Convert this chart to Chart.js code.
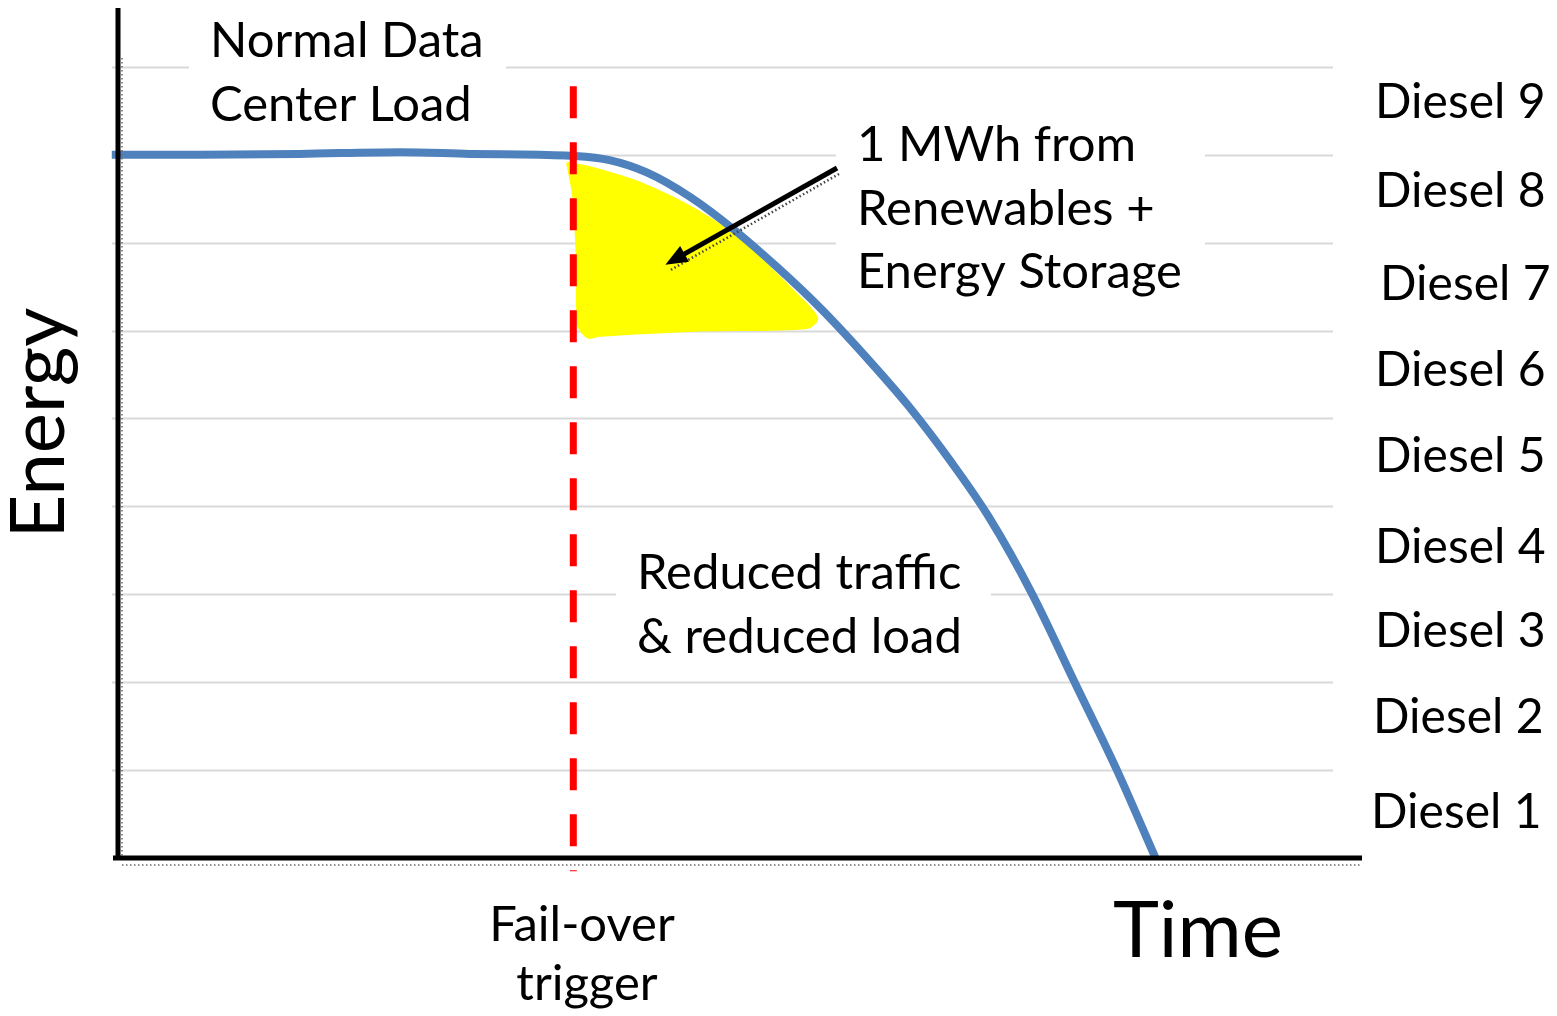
<!DOCTYPE html>
<html>
<head>
<meta charset="utf-8">
<script src="https://cdn.jsdelivr.net/npm/chart.js@4.4.0/dist/chart.umd.min.js"></script>
<style>
  html, body { margin: 0; padding: 0; background: #ffffff; }
  #wrap { position: relative; width: 1557px; height: 1016px; }
  canvas { display: block; }
</style>
</head>
<body>
<div id="wrap"><canvas id="chart" width="1557" height="1016"></canvas></div>
<script>
// ---- data -------------------------------------------------------------
// Data-center load over time (time in arbitrary units 0..100, energy in diesel-generator units)
const loadTime   = [-0.5, 6.6, 14.6, 22.7, 28.3, 33.9, 36.3, 39.5, 42.5, 46.0, 49.5, 53.0, 56.5, 60.0, 63.5, 67.0, 70.0, 73.5, 76.9, 80.3, 83.4];
const loadEnergy = [8.00, 8.00, 8.01, 8.03, 8.01, 8.00, 7.99, 7.94, 7.80, 7.52, 7.15, 6.72, 6.25, 5.72, 5.15, 4.50, 3.88, 3.00, 2.00, 1.00, 0.00];

// Fail-over trigger moment
const failoverTime   = 36.6;
const failoverEnergy = [8.78, -0.15];

// Energy bridged by renewables + storage (outline of the shaded region)
const bridgeTime   = [36.1, 37.9, 42.0, 46.5, 50.0, 54.8, 56.2, 55.4, 46.8, 38.7, 37.8, 37.0, 36.9, 36.6, 36.1];
const bridgeEnergy = [7.91, 7.86, 7.68, 7.37, 7.03, 6.38, 6.14, 6.03, 6.00, 5.94, 5.92, 6.06, 6.77, 7.52, 7.91];

// Diesel generator levels
const gridLevels   = [1, 2, 3, 4, 5, 6, 7, 8, 9];
const dieselLabels = ['Diesel 9', 'Diesel 8', 'Diesel 7', 'Diesel 6', 'Diesel 5', 'Diesel 4', 'Diesel 3', 'Diesel 2', 'Diesel 1'];
const dieselLevels = [8.60, 7.58, 6.52, 5.55, 4.57, 3.53, 2.58, 1.60, 0.52];

// Annotation arrow (time, energy)
const arrowFrom = [57.8, 7.85];
const arrowTo   = [44.0, 6.75];

// ---- drawing ----------------------------------------------------------
const FONT = 'Lato, "Open Sans", sans-serif';
const toXY = (xs, ys) => xs.map((x, i) => ({ x: x, y: ys[i] }));

// gridlines and white text-box backgrounds, under the data
const backdrop = {
  id: 'backdrop',
  beforeDatasetsDraw(chart) {
    const { ctx, chartArea, scales } = chart;
    const y = scales.y;
    ctx.save();
    ctx.strokeStyle = '#d9d9d9';
    ctx.lineWidth = 2;
    gridLevels.forEach(v => {
      const py = Math.round(y.getPixelForValue(v)) + 0.5;
      ctx.beginPath();
      ctx.moveTo(chartArea.left - 6, py);
      ctx.lineTo(chartArea.right - 29, py);
      ctx.stroke();
    });
    // text boxes
    ctx.fillStyle = '#ffffff';
    ctx.fillRect(189, 10, 317, 125);
    ctx.fillRect(836, 100, 369, 205);
    ctx.fillRect(616, 530, 375, 140);
    ctx.restore();
  }
};

// axes, arrow and all text, over the data
const foreground = {
  id: 'foreground',
  afterDatasetsDraw(chart) {
    const { ctx, chartArea, scales } = chart;
    const xs = scales.x, ys = scales.y;
    ctx.save();

    // axis shadows (dotted)
    ctx.strokeStyle = '#6a6a6a';
    ctx.lineWidth = 1.5;
    ctx.setLineDash([1.5, 2.5]);
    ctx.beginPath();
    ctx.moveTo(chartArea.left + 4, chartArea.bottom + 7);
    ctx.lineTo(chartArea.right - 2, chartArea.bottom + 7);
    ctx.moveTo(chartArea.left + 4, chartArea.top + 50);
    ctx.lineTo(chartArea.left + 4, chartArea.bottom + 4);
    ctx.stroke();
    ctx.setLineDash([]);

    // axes
    ctx.strokeStyle = '#000000';
    ctx.lineWidth = 5;
    ctx.beginPath();
    ctx.moveTo(chartArea.left, chartArea.top);
    ctx.lineTo(chartArea.left, chartArea.bottom + 2);
    ctx.moveTo(chartArea.left - 5, chartArea.bottom);
    ctx.lineTo(chartArea.right, chartArea.bottom);
    ctx.stroke();

    // arrow
    const x0 = xs.getPixelForValue(arrowFrom[0]), y0 = ys.getPixelForValue(arrowFrom[1]);
    const x1 = xs.getPixelForValue(arrowTo[0]),   y1 = ys.getPixelForValue(arrowTo[1]);
    const ang = Math.atan2(y1 - y0, x1 - x0);
    const head = 22, half = 9;
    // shadow
    ctx.strokeStyle = '#444444';
    ctx.lineWidth = 2.5;
    ctx.setLineDash([1.5, 2.5]);
    ctx.beginPath();
    ctx.moveTo(x0 + 2, y0 + 6);
    ctx.lineTo(x1 + 4, y1 + 6);
    ctx.stroke();
    ctx.setLineDash([]);
    ctx.strokeStyle = '#000000';
    ctx.fillStyle = '#000000';
    ctx.lineWidth = 5;
    ctx.beginPath();
    ctx.moveTo(x0, y0);
    ctx.lineTo(x1 - Math.cos(ang) * (head - 4), y1 - Math.sin(ang) * (head - 4));
    ctx.stroke();
    ctx.beginPath();
    ctx.moveTo(x1, y1);
    ctx.lineTo(x1 - Math.cos(ang) * head - Math.sin(ang) * half, y1 - Math.sin(ang) * head + Math.cos(ang) * half);
    ctx.lineTo(x1 - Math.cos(ang) * head + Math.sin(ang) * half, y1 - Math.sin(ang) * head - Math.cos(ang) * half);
    ctx.closePath();
    ctx.fill();

    // texts
    ctx.fillStyle = '#000000';
    ctx.textBaseline = 'alphabetic';
    ctx.textAlign = 'left';
    ctx.font = '49px ' + FONT;
    ctx.fillText('Normal Data', 210, 57);
    ctx.fillText('Center Load', 210, 121);
    ctx.fillText('1 MWh from', 857, 161);
    ctx.fillText('Renewables +', 857, 225);
    ctx.fillText('Energy Storage', 857, 288);
    ctx.fillText('Reduced traffic', 637, 589);
    ctx.fillText('& reduced load', 637, 653);

    ctx.textAlign = 'center';
    ctx.fillText('Fail-over', 582, 941);
    ctx.fillText('trigger', 587, 1000);

    // diesel levels on the right
    ctx.font = '48px ' + FONT;
    ctx.textAlign = 'left';
    ctx.textBaseline = 'middle';
    const dx = [0, 0, 5, 0, 0, 0, 0, -2, -4];
    dieselLabels.forEach((t, i) => {
      ctx.fillText(t, 1375 + dx[i], ys.getPixelForValue(dieselLevels[i]));
    });

    // axis titles
    ctx.textBaseline = 'alphabetic';
    ctx.font = '78px ' + FONT;
    ctx.textAlign = 'left';
    ctx.fillText('Time', 1113, 957);

    ctx.save();
    ctx.translate(64, 423);
    ctx.rotate(-Math.PI / 2);
    ctx.textAlign = 'center';
    ctx.font = '76px ' + FONT;
    ctx.fillText('Energy', 0, 0);
    ctx.restore();

    ctx.restore();
  }
};

new Chart(document.getElementById('chart'), {
  type: 'scatter',
  data: {
    datasets: [
      {
        label: 'Fail-over trigger',
        data: toXY([failoverTime, failoverTime], failoverEnergy),
        showLine: true,
        borderColor: '#ff0000',
        borderWidth: 7,
        borderDash: [32, 24],
        borderCapStyle: 'butt',
        pointRadius: 0,
        clip: false
      },
      {
        label: 'Data center load',
        data: toXY(loadTime, loadEnergy),
        showLine: true,
        borderColor: '#4f81bd',
        borderWidth: 8,
        cubicInterpolationMode: 'monotone',
        pointRadius: 0,
        clip: false
      },
      {
        label: '1 MWh from Renewables + Energy Storage',
        data: toXY(bridgeTime, bridgeEnergy),
        showLine: true,
        borderColor: '#ffff00',
        borderWidth: 2,
        backgroundColor: '#ffff00',
        fill: 'shape',
        tension: 0.3,
        pointRadius: 0,
        clip: false
      }
    ]
  },
  options: {
    responsive: false,
    animation: false,
    events: [],
    layout: { padding: { left: 118, right: 195, top: 8, bottom: 158 } },
    plugins: { legend: { display: false }, tooltip: { enabled: false }, title: { display: false } },
    scales: {
      x: { type: 'linear', min: 0, max: 100, display: false },
      y: { type: 'linear', min: 0, max: 9.67, display: false }
    }
  },
  plugins: [backdrop, foreground]
});
</script>
</body>
</html>
